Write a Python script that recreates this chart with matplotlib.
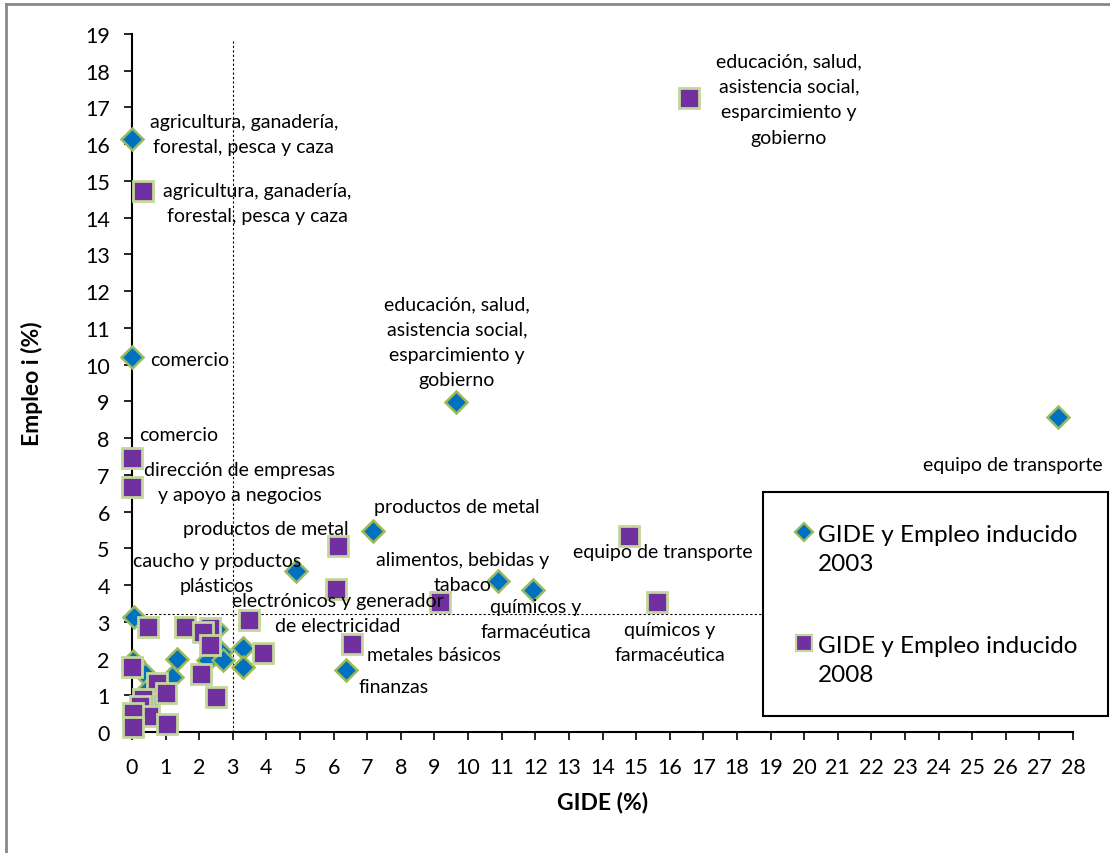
import numpy as np
import matplotlib
matplotlib.use('Agg')
import matplotlib.pyplot as plt
from matplotlib.lines import Line2D
from matplotlib.patches import Rectangle

plt.rcParams['font.family'] = ['Lato', 'DejaVu Sans']

# GIDE (%) and induced employment (%) by sector
gide_2003 = [0.0, 0.0, 9.65, 7.18, 4.88, 10.9, 11.94, 27.56, 6.36, 3.29, 3.31,
             0.07, 1.35, 1.18, 2.27, 2.64, 2.70, 2.50, 0.04, 0.39, 0.63, 0.50]
empleo_2003 = [16.15, 10.2, 8.97, 5.48, 4.37, 4.12, 3.86, 8.57, 1.69, 2.29, 1.76,
               3.14, 2.0, 1.49, 1.97, 2.17, 1.97, 2.80, 1.94, 1.58, 0.90, 1.20]

gide_2008 = [16.57, 0.32, 0.01, 0.01, 6.14, 6.07, 9.15, 14.80, 15.63, 3.49, 6.54,
             3.89, 0.47, 1.58, 2.32, 2.12, 2.32, 2.04, 2.49, 0.0, 0.73, 1.01,
             0.32, 0.24, 0.52, 0.02, 0.02, 1.05]
empleo_2008 = [17.25, 14.73, 7.45, 6.66, 5.05, 3.89, 3.55, 5.34, 3.55, 3.06, 2.40,
               2.14, 2.85, 2.85, 2.83, 2.71, 2.37, 1.58, 0.96, 1.76, 1.33, 1.05,
               0.90, 0.72, 0.44, 0.52, 0.13, 0.22]

series_names = ['GIDE y Empleo inducido\n2003', 'GIDE y Empleo inducido\n2008']

# reference lines
gide_ref = 3.0
empleo_ref = 3.2

# sector labels: text, x, y, alignment
labels = [
    ('agricultura, ganadería,\nforestal, pesca y caza', 3.33, 16.28, 'center'),
    ('agricultura, ganadería,\nforestal, pesca y caza', 3.72, 14.40, 'center'),
    ('comercio', 0.54, 10.15, 'left'),
    ('comercio', 0.21, 8.11, 'left'),
    ('dirección de empresas\ny apoyo a negocios', 3.21, 6.80, 'center'),
    ('productos de metal', 3.99, 5.55, 'center'),
    ('productos de metal', 9.67, 6.15, 'center'),
    ('caucho y productos\nplásticos', 2.53, 4.33, 'center'),
    ('electrónicos y generador\nde electricidad', 6.13, 3.24, 'center'),
    ('alimentos, bebidas y\ntabaco', 9.85, 4.35, 'center'),
    ('químicos y\nfarmacéutica', 12.02, 3.08, 'center'),
    ('educación, salud,\nasistencia social,\nesparcimiento y\ngobierno', 9.67, 10.62, 'center'),
    ('educación, salud,\nasistencia social,\nesparcimiento y\ngobierno', 19.55, 17.23, 'center'),
    ('equipo de transporte', 26.22, 7.29, 'center'),
    ('equipo de transporte', 15.80, 4.90, 'center'),
    ('químicos y\nfarmacéutica', 16.01, 2.45, 'center'),
    ('metales básicos', 6.99, 2.10, 'left'),
    ('finanzas', 6.73, 1.25, 'left'),
]

diamond = dict(marker='D', markerfacecolor='#0070C0', markeredgecolor='#9BBB59')
square = dict(marker='s', markerfacecolor='#7030A0', markeredgecolor='#C3D69B')

W, H = 1110, 854
fig = plt.figure(figsize=(W / 100, H / 100), dpi=100)
ax = fig.add_axes([132 / W, 121 / H, 941 / W, 698 / H])

ax.plot([gide_ref, gide_ref], [0, 18.8], color='black', linestyle=(0, (2, 2)), linewidth=0.8)
ax.plot([0, 28], [empleo_ref, empleo_ref], color='black', linestyle=(0, (2, 2)), linewidth=0.8)

ax.plot(gide_2003, empleo_2003, linestyle='none', markersize=11, markeredgewidth=1.8,
        clip_on=False, zorder=3, **diamond)
ax.plot(gide_2008, empleo_2008, linestyle='none', markersize=14, markeredgewidth=2,
        clip_on=False, zorder=4, **square)

for txt, x, y, ha in labels:
    ax.text(x, y, txt, ha=ha, va='center', fontsize=14, linespacing=1.6, zorder=5)

ax.set_xlim(0, 28)
ax.set_ylim(0, 19)
ax.set_xticks(np.arange(0, 29, 1))
ax.set_yticks(np.arange(0, 20, 1))
ax.spines['top'].set_visible(False)
ax.spines['right'].set_visible(False)
ax.spines['left'].set_linewidth(1.5)
ax.spines['bottom'].set_linewidth(1.5)
ax.tick_params(direction='out', length=6, width=1.2, labelsize=15.5)
ax.tick_params(axis='x', pad=12)
ax.tick_params(axis='y', pad=10)

ax.set_xlabel('GIDE (%)', fontsize=16.5, fontweight='bold', labelpad=10)
ax.set_ylabel('Empleo i (%)', fontsize=16.5, fontweight='bold', labelpad=30)

# legend box (drawn by hand so the marker sits on the first text line)
fig.add_artist(Rectangle((763 / W, 1 - 717 / H), 345 / W, 224 / H, transform=fig.transFigure,
                         facecolor='white', edgecolor='black', linewidth=1.5, zorder=6))
for name, style, ms, y0 in [(series_names[0], diamond, 9, 533), (series_names[1], square, 11, 644)]:
    fig.add_artist(Line2D([804 / W], [1 - y0 / H], linestyle='none', markersize=ms,
                          markeredgewidth=1.6, zorder=7, **style))
    fig.text(818 / W, 1 - (y0 + 17) / H, name, ha='left', va='center', fontsize=17.5,
             linespacing=1.45, zorder=7)

# chart border
fig.add_artist(Line2D([6 / W, 1], [1 - 4.5 / H, 1 - 4.5 / H], color='#888888', linewidth=2))
fig.add_artist(Line2D([6 / W, 6 / W], [0, 1 - 4.5 / H], color='#888888', linewidth=2))

fig.savefig('out.png', dpi=100)
